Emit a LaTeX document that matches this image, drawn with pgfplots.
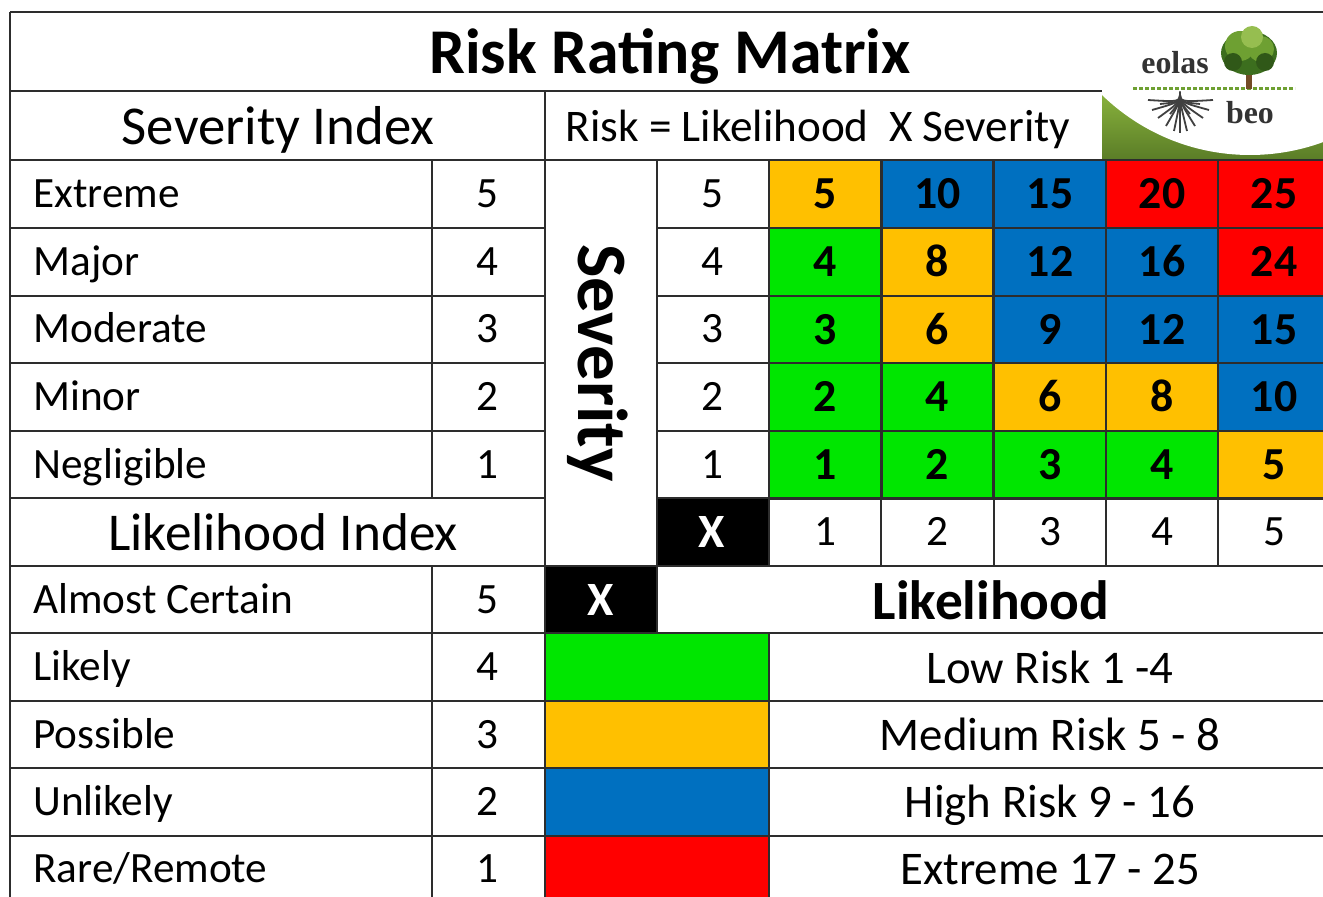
\documentclass[border=0pt]{standalone}
\usepackage{pgfplots}
\pgfplotsset{compat=1.18}
\usepackage{pgfplotstable}
\usepackage{fontspec}
\setmainfont{Carlito}
\newfontfamily\logofont{Liberation Serif}

\definecolor{rgreen}{RGB}{0,230,0}
\definecolor{ramber}{RGB}{255,192,0}
\definecolor{rblue}{RGB}{0,112,192}
\definecolor{rred}{RGB}{255,0,0}
\definecolor{gridc}{RGB}{45,45,45}
\definecolor{logoA}{RGB}{140,182,62}
\definecolor{logoB}{RGB}{88,122,38}
\definecolor{treeA}{RGB}{60,110,30}
\definecolor{treeB}{RGB}{110,160,50}
\definecolor{treeC}{RGB}{150,190,80}

\newcommand\fs[1]{\fontsize{#1}{#1}\selectfont}

% one risk cell of the matrix: 112.2 x 67.6 px = 56.1 x 33.8 bp, filled and outlined
\pgfdeclareplotmark{cell}{\pgfpathrectangle{\pgfpoint{-28.05bp}{-16.9bp}}{\pgfpoint{56.1bp}{33.8bp}}\pgfusepathqfillstroke}

% x, y = centre of the cell (pixel grid), score = likelihood x severity, cls = risk class
\pgfplotstableread{
x y score cls
825 194 5 o
937.5 194 10 b
1050 194 15 b
1162 194 20 r
1274 194 25 r
825 262 4 g
937.5 262 8 o
1050 262 12 b
1162 262 16 b
1274 262 24 r
825 329.5 3 g
937.5 329.5 6 o
1050 329.5 9 b
1162 329.5 12 b
1274 329.5 15 b
825 397 2 g
937.5 397 4 g
1050 397 6 o
1162 397 8 o
1274 397 10 b
825 464.5 1 g
937.5 464.5 2 g
1050 464.5 3 g
1162 464.5 4 g
1274 464.5 5 o
}\riskcells

\tikzset{
  body/.style={font=\fs{21.7}, text height=14pt, text depth=0pt, inner sep=0pt},
  legtxt/.style={font=\fs{23.5}, text height=15.1pt, text depth=0pt, inner sep=0pt},
  grid/.style={draw=gridc, line width=1.2bp},
  root/.style={draw=black!75, line width=0.9bp},
}
\newcommand\hl[3]{\draw[grid] (axis cs:#2,#1) -- (axis cs:#3,#1);}
\newcommand\vl[3]{\draw[grid] (axis cs:#1,#2) -- (axis cs:#1,#3);}
\newcommand\rt[2]{\draw[root] (axis cs:1180,92) .. controls (axis cs:1180,102) .. (axis cs:#1,#2);}

\begin{document}
\begin{tikzpicture}
\begin{axis}[
  scale only axis, width=661.5bp, height=448.5bp,
  xmin=0, xmax=1323, ymin=0, ymax=897, y dir=reverse,
  hide axis, clip=true,
]
% background
\addplot[draw=none, fill=white, forget plot] coordinates {(0,0) (1323,0) (1323,897) (0,897)};

% logo background
\fill[top color=logoA, bottom color=logoB] (axis cs:1102,88) rectangle (axis cs:1323,163);
\fill[white] (axis cs:1250,-57.5) circle[radius=106.25bp];

% legend swatches and black cells
\addplot[draw=none, fill=rgreen] coordinates {(545,633) (769,633) (769,701) (545,701)};
\addplot[draw=none, fill=ramber] coordinates {(545,701) (769,701) (769,768) (545,768)};
\addplot[draw=none, fill=rblue] coordinates {(545,768) (769,768) (769,836) (545,836)};
\addplot[draw=none, fill=rred] coordinates {(545,836) (769,836) (769,897) (545,897)};
\addplot[draw=none, fill=black] coordinates {(657,498) (769,498) (769,566) (657,566)};
\addplot[draw=none, fill=black] coordinates {(545,566) (657,566) (657,633) (545,633)};

% grid lines
\hl{12}{10}{1323}
\hl{91}{10}{1102}
\hl{160}{10}{1323}
\hl{228}{10}{545}\hl{228}{657}{1323}
\hl{296}{10}{545}\hl{296}{657}{1323}
\hl{363}{10}{545}\hl{363}{657}{1323}
\hl{431}{10}{545}\hl{431}{657}{1323}
\hl{498}{10}{545}\hl{498}{657}{1323}
\hl{566}{10}{1323}
\hl{633}{10}{1323}
\hl{701}{10}{1323}
\hl{768}{10}{1323}
\hl{836}{10}{1323}
\vl{10}{12}{897}
\vl{432}{160}{498}\vl{432}{566}{897}
\vl{545}{91}{897}
\vl{657}{160}{633}
\vl{769}{160}{566}\vl{769}{633}{897}
\vl{881}{160}{566}
\vl{994}{160}{566}
\vl{1106}{160}{566}
\vl{1218}{160}{566}

% risk matrix cells (filled, with their own borders)
\addplot[scatter, only marks, scatter src=explicit symbolic,
  scatter/classes={
    g={mark=cell, fill=rgreen, draw=gridc, line width=1.2bp},
    o={mark=cell, fill=ramber, draw=gridc, line width=1.2bp},
    b={mark=cell, fill=rblue, draw=gridc, line width=1.2bp},
    r={mark=cell, fill=rred, draw=gridc, line width=1.2bp}}]
  table[x=x, y=y, meta=cls] {\riskcells};

% scores
\addplot[only marks, mark=none, nodes near coords, point meta=explicit symbolic,
  every node near coord/.append style={anchor=center, font=\bfseries\fs{23}, text height=14.6pt, text depth=0pt, inner sep=0pt, black}]
  table[x=x, y=y, meta=score] {\riskcells};

% titles
\node[font=\bfseries\fs{32}, text height=20.6pt, text depth=0pt, inner sep=0pt] at (axis cs:670,53) {Risk Rating Matrix};
\node[font=\fs{27.5}, text height=17.7pt, text depth=0pt, inner sep=0pt] at (axis cs:278,127) {Severity Index};
\node[font=\fs{22.7}, text height=14.6pt, text depth=0pt, inner sep=0pt] at (axis cs:818,127) {Risk = Likelihood~~X Severity};
\node[font=\fs{26.7}, text height=17.2pt, text depth=0pt, inner sep=0pt] at (axis cs:283,533) {Likelihood Index};
\node[font=\bfseries\fs{35.5}, text height=22.9pt, text depth=0pt, inner sep=0pt, rotate=-90] at (axis cs:601,363) {Severity};
\node[font=\bfseries\fs{27.8}, text height=17.9pt, text depth=0pt, inner sep=0pt] at (axis cs:991,602) {Likelihood};
\node[font=\bfseries\fs{24}, text height=15.5pt, text depth=0pt, inner sep=0pt, white] at (axis cs:712,532) {X};
\node[font=\bfseries\fs{24}, text height=15.5pt, text depth=0pt, inner sep=0pt, white] at (axis cs:601,600) {X};

% severity index
\node[body, anchor=west] at (axis cs:33,194) {Extreme};
\node[body, anchor=west] at (axis cs:33,262) {Major};
\node[body, anchor=west] at (axis cs:33,329) {Moderate};
\node[body, anchor=west] at (axis cs:33,397) {Minor};
\node[body, anchor=west] at (axis cs:33,465) {Negligible};
\node[body] at (axis cs:487,194) {5};
\node[body] at (axis cs:487,262) {4};
\node[body] at (axis cs:487,329) {3};
\node[body] at (axis cs:487,397) {2};
\node[body] at (axis cs:487,465) {1};
% likelihood index
\node[body, anchor=west] at (axis cs:33,600) {Almost Certain};
\node[body, anchor=west] at (axis cs:33,667) {Likely};
\node[body, anchor=west] at (axis cs:33,735) {Possible};
\node[body, anchor=west] at (axis cs:33,802) {Unlikely};
\node[body, anchor=west] at (axis cs:33,869) {Rare/Remote};
\node[body] at (axis cs:487,600) {5};
\node[body] at (axis cs:487,667) {4};
\node[body] at (axis cs:487,735) {3};
\node[body] at (axis cs:487,802) {2};
\node[body] at (axis cs:487,869) {1};
% matrix axes
\node[body] at (axis cs:712,194) {5};
\node[body] at (axis cs:712,262) {4};
\node[body] at (axis cs:712,329) {3};
\node[body] at (axis cs:712,397) {2};
\node[body] at (axis cs:712,465) {1};
\node[body] at (axis cs:825,532) {1};
\node[body] at (axis cs:937,532) {2};
\node[body] at (axis cs:1050,532) {3};
\node[body] at (axis cs:1162,532) {4};
\node[body] at (axis cs:1274,532) {5};
% legend
\node[legtxt] at (axis cs:1050,668) {Low Risk 1 -4};
\node[legtxt] at (axis cs:1050,735) {Medium Risk 5 - 8};
\node[legtxt] at (axis cs:1050,802) {High Risk 9 - 16};
\node[legtxt] at (axis cs:1050,869) {Extreme 17 - 25};

% logo details
\draw[treeB, line width=1.5bp, dash pattern=on 2bp off 1bp] (axis cs:1133,89) -- (axis cs:1295,89);
\fill[brown!60!black] (axis cs:1246,68) rectangle (axis cs:1252,89);
\fill[treeA] (axis cs:1249,53) ellipse[x radius=14bp, y radius=11bp];
\fill[treeB] (axis cs:1240,46) circle[radius=7.5bp];
\fill[treeB] (axis cs:1261,49) circle[radius=6.5bp];
\fill[treeC] (axis cs:1252,37) circle[radius=5.5bp];
\fill[treeA!80!black] (axis cs:1233,62) circle[radius=4.5bp];
\fill[treeA!80!black] (axis cs:1265,62) circle[radius=4.5bp];
\rt{1148}{100}\rt{1152}{110}\rt{1158}{118}\rt{1166}{126}\rt{1174}{131}\rt{1180}{133}
\rt{1187}{131}\rt{1195}{126}\rt{1203}{118}\rt{1209}{110}\rt{1213}{100}
\rt{1160}{104}\rt{1170}{114}\rt{1190}{114}\rt{1200}{104}\rt{1180}{124}
\node[font=\logofont\bfseries\fs{16}, text=black!80, inner sep=0pt] at (axis cs:1175,63) {eolas};
\node[font=\logofont\bfseries\fs{16}, text=black!80, inner sep=0pt] at (axis cs:1250,113) {beo};
\end{axis}
\pgfresetboundingbox
\path[use as bounding box] (current axis.south west) rectangle (current axis.north east);
\end{tikzpicture}
\end{document}
